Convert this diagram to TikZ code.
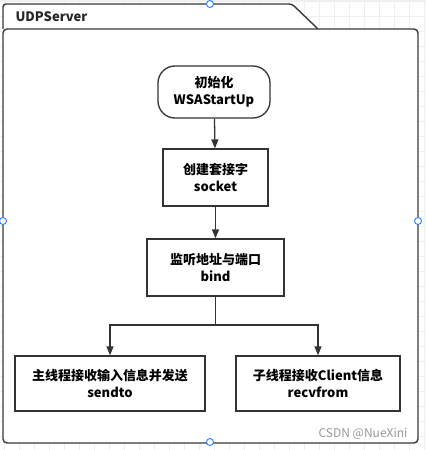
\documentclass[tikz,border=0pt]{standalone}
\usepackage{fontspec}
\setmainfont{Noto Sans CJK SC}
\usetikzlibrary{arrows.meta}
\definecolor{gridc}{HTML}{EFEFEF}
\definecolor{linec}{HTML}{333333}
\definecolor{framec}{HTML}{36393D}
\definecolor{handlec}{HTML}{2A7FFF}
\tikzset{
  boxstyle/.style={draw=linec, line width=1.3pt, fill=white, align=center, font=\bfseries\fontsize{13}{17}\selectfont, inner sep=0pt},
  arr/.style={draw=linec, line width=1.3pt, -{Triangle[length=9pt,width=7pt]}},
  conn/.style={draw=linec, line width=1.3pt},
  handle/.style={circle, draw=handlec, fill=white, line width=0.9pt, minimum size=7pt, inner sep=0pt},
}
\begin{document}
\begin{tikzpicture}[x=1pt,y=-1pt]
\useasboundingbox (0,0) rectangle (426,450);
\fill[white] (0,0) rectangle (426,450);
% grid
\foreach \gx in {4,19,...,424} \draw[gridc, line width=0.6pt] (\gx,0) -- (\gx,450);
\foreach \gy in {1,16,...,449} \draw[gridc, line width=0.6pt] (0,\gy) -- (426,\gy);
\fill[gridc] (0,0) rectangle (426,2);
% container
\filldraw[fill=white, draw=framec, line width=1.4pt, rounded corners=3pt] (3,29) -- (3,4) -- (292,4) -- (318,29);
\filldraw[fill=white, draw=framec, line width=1.4pt, rounded corners=4pt] (3,29) rectangle (418,443);
\node[anchor=west, font=\bfseries\fontsize{13}{15}\selectfont, text=black!85] (title) at (12,17) {UDPServer};
% nodes
\node[boxstyle, rounded corners=17pt, minimum width=112pt, minimum height=52pt] (init) at (214,92) {初始化\\WSAStartUp};
\node[boxstyle, minimum width=105pt, minimum height=57pt] (sock) at (215.5,177.5) {创建套接字\\socket};
\node[boxstyle, minimum width=137pt, minimum height=57pt] (bind) at (215.5,267.5) {监听地址与端口\\bind};
\node[boxstyle, minimum width=190pt, minimum height=55pt] (main) at (110,383.5) {主线程接收输入信息并发送\\sendto};
\node[boxstyle, minimum width=164pt, minimum height=55pt] (child) at (318,383.5) {子线程接收Client信息\\recvfrom};
\coordinate (split) at (215.5,325);
% connectors
\draw[arr] (init) -- (sock);
\draw[arr] (sock) -- (bind);
\draw[conn] (bind.south) -- (split);
\draw[arr] (split) -| (main.north);
\draw[arr] (split) -| (child.north);
% watermark
\node[anchor=east, text=black!40, font=\fontsize{12}{14}\selectfont] (wm) at (411,434) {CSDN @NueXini};
% selection handles
\node[handle] (h1) at (210,4) {};
\node[handle] (h2) at (3,221) {};
\node[handle] (h3) at (418,221) {};
\node[handle] (h4) at (210,442) {};
\end{tikzpicture}
\end{document}
